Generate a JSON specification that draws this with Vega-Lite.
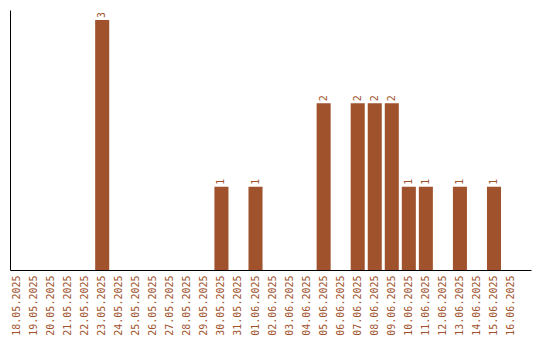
{
  "$schema": "https://vega.github.io/schema/vega-lite/v6.json",
  "autosize": "none",
  "width": 521,
  "height": 260,
  "padding": {"left": 10, "top": 10, "right": 9, "bottom": 70},
  "background": "white",
  "config": {"view": {"stroke": null}, "font": "DejaVu Sans Mono"},
  "data": {"values": [
    {"date": "18.05.2025", "v": 0},
    {"date": "19.05.2025", "v": 0},
    {"date": "20.05.2025", "v": 0},
    {"date": "21.05.2025", "v": 0},
    {"date": "22.05.2025", "v": 0},
    {"date": "23.05.2025", "v": 3},
    {"date": "24.05.2025", "v": 0},
    {"date": "25.05.2025", "v": 0},
    {"date": "26.05.2025", "v": 0},
    {"date": "27.05.2025", "v": 0},
    {"date": "28.05.2025", "v": 0},
    {"date": "29.05.2025", "v": 0},
    {"date": "30.05.2025", "v": 1},
    {"date": "31.05.2025", "v": 0},
    {"date": "01.06.2025", "v": 1},
    {"date": "02.06.2025", "v": 0},
    {"date": "03.06.2025", "v": 0},
    {"date": "04.06.2025", "v": 0},
    {"date": "05.06.2025", "v": 2},
    {"date": "06.06.2025", "v": 0},
    {"date": "07.06.2025", "v": 2},
    {"date": "08.06.2025", "v": 2},
    {"date": "09.06.2025", "v": 2},
    {"date": "10.06.2025", "v": 1},
    {"date": "11.06.2025", "v": 1},
    {"date": "12.06.2025", "v": 0},
    {"date": "13.06.2025", "v": 1},
    {"date": "14.06.2025", "v": 0},
    {"date": "15.06.2025", "v": 1},
    {"date": "16.06.2025", "v": 0}
  ]},
  "encoding": {
    "x": {
      "field": "date", "type": "ordinal", "sort": null,
      "scale": {"paddingInner": 0.176, "paddingOuter": 0.38, "align": 0},
      "axis": {
        "title": null, "ticks": false, "labelAngle": -90, "labelAlign": "right",
        "labelBaseline": "middle", "labelPadding": 5, "labelFontSize": 10,
        "labelColor": "#A0522D", "domainColor": "black", "domainWidth": 1, "grid": false
      }
    },
    "y": {
      "field": "v", "type": "quantitative",
      "scale": {"domain": [0, 3.12], "nice": false},
      "axis": {"title": null, "ticks": false, "labels": false, "grid": false, "domainColor": "black", "domainWidth": 1}
    }
  },
  "layer": [
    {"mark": {"type": "bar", "color": "#A0522D"}},
    {
      "transform": [{"filter": "datum.v > 0"}],
      "mark": {"type": "text", "angle": -90, "align": "left", "baseline": "middle", "dx": 2, "fontSize": 10, "color": "#A0522D"},
      "encoding": {"text": {"field": "v", "type": "quantitative"}}
    }
  ]
}
